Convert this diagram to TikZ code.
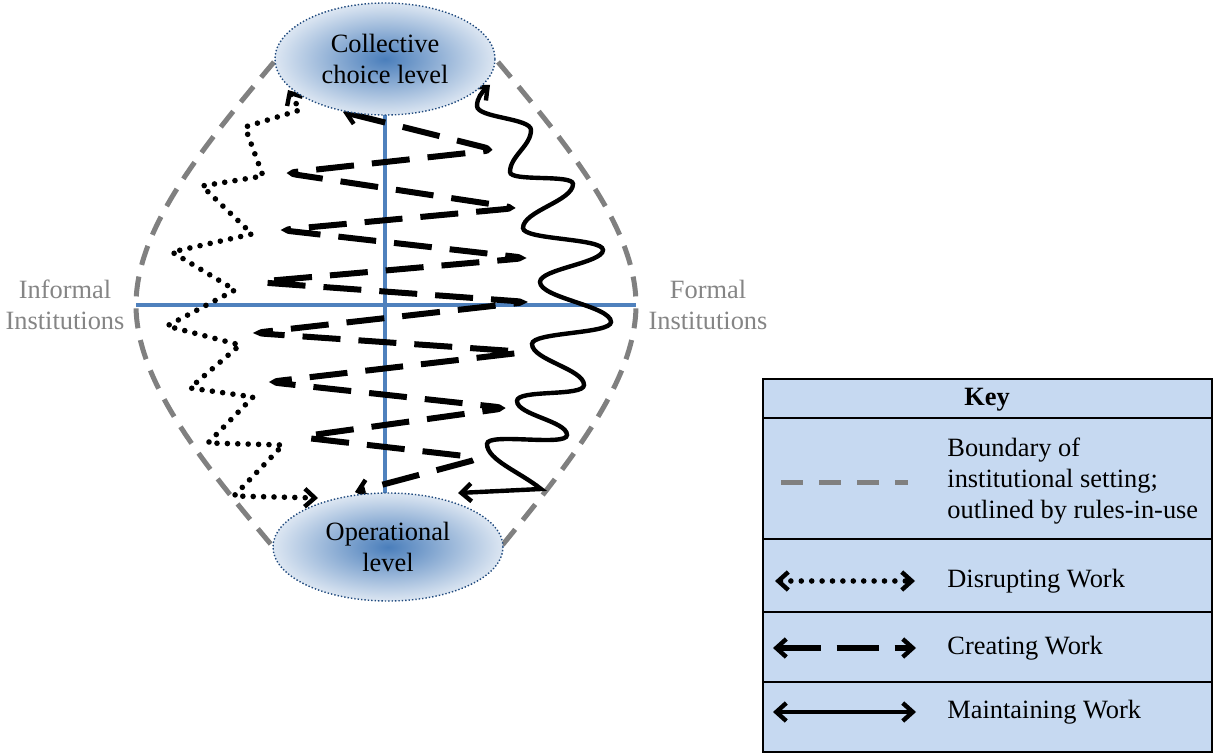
\documentclass[tikz,border=0pt]{standalone}
\usepackage{fontspec}
\setmainfont{Liberation Serif}
\usetikzlibrary{shapes.geometric,arrows.meta}
\definecolor{keyfill}{HTML}{C6D9F1}
\definecolor{axisblue}{HTML}{4F81BD}
\definecolor{ellblue}{HTML}{4A7EBB}
\definecolor{elllight}{HTML}{DCE6F2}
\definecolor{elledge}{HTML}{1F497D}
\definecolor{bgray}{HTML}{808080}
\definecolor{tgray}{HTML}{858585}
\begin{document}
\begin{tikzpicture}[x=0.5pt,y=-0.5pt,
  >={Straight Barb[length=5pt,width=9pt,line width=2.2pt]},
  every node/.style={font=\fontsize{13.2}{15.5}\selectfont, inner sep=0pt},
  levelbox/.style={ellipse, draw=elledge, densely dotted, line width=0.7pt,
    inner color=ellblue, outer color=elllight, align=center},
  boundary/.style={draw=bgray, line width=2.5pt, dash pattern=on 10pt off 6pt},
  axisline/.style={draw=axisblue, line width=2pt},
  disrupt/.style={line width=2.8pt, line cap=round, dash pattern=on 0pt off 5.2pt},
  create/.style={line width=3pt, dash pattern=on 19pt off 9pt, rounded corners=6pt},
  maintain/.style={line width=2.2pt},
  sidetext/.style={text=tgray, align=center},
  keytext/.style={anchor=west, align=left}
]
\useasboundingbox (0,0) rectangle (1213,753);

% boundary of institutional setting
\coordinate (bw) at (136,305);
\coordinate (be) at (636,305);
\draw[boundary] (274,62) .. controls (200,150) and (136,230) .. (bw)
  .. controls (136,380) and (200,460) .. (274,548);
\draw[boundary] (498,62) .. controls (572,150) and (636,230) .. (be)
  .. controls (636,380) and (572,460) .. (500,548);

% axes
\coordinate (vt) at (385,114);
\coordinate (vb) at (385,494);
\draw[axisline] (vt) -- (vb);
\draw[axisline] (bw) -- (be);

% side labels
\node[sidetext] (inf) at (65,305) {Informal\\Institutions};
\node[sidetext] (for) at (708,305) {Formal\\Institutions};

% disrupting work (dotted zigzag)
\coordinate (dtop) at (288,90);
\coordinate (dbot) at (318,498);
\draw[disrupt,<->] (dtop) -- (300,110) -- (245,127) -- (263,176) -- (202,186)
  -- (252,234) -- (172,252) -- (235,290) -- (167,326) -- (240,345)
  -- (190,388) -- (253,397) -- (208,443) -- (283,445) -- (234,496) -- (dbot);

% creating work (dashed zigzag)
\coordinate (ctop) at (343,112);
\coordinate (cbot) at (355,492);
\draw[create,<->] (ctop) -- (495,150) -- (285,173) -- (517,208) -- (280,230)
  -- (527,258) -- (255,282) -- (528,302) -- (253,333) -- (527,352)
  -- (268,382) -- (507,408) -- (298,437) -- (482,458) -- (cbot);

% maintaining work (solid wave)
\coordinate (mbot) at (458,493);
\coordinate (mtop) at (490,85);
\draw[maintain,<->] (mbot) -- (541,489)
  .. controls (520,472) and (487,460) .. (487,444)
  .. controls (487,432) and (567,447) .. (567,435)
  .. controls (567,421) and (517,415) .. (517,401)
  .. controls (517,389) and (584,397) .. (584,385)
  .. controls (584,369) and (532,360) .. (532,344)
  .. controls (532,332) and (611,334) .. (611,322)
  .. controls (611,306) and (540,298) .. (540,282)
  .. controls (540,269) and (603,263) .. (603,250)
  .. controls (603,238) and (523,240) .. (523,228)
  .. controls (523,211) and (573,201) .. (573,184)
  .. controls (573,174) and (510,182) .. (510,172)
  .. controls (510,156) and (531,146) .. (531,130)
  .. controls (531,118) and (477,118) .. (477,106)
  .. controls (477,98) and (482,92) .. (mtop);

% levels
\node[levelbox, minimum width=110pt, minimum height=56pt] (top) at (385,59) {Collective\\choice level};
\node[levelbox, minimum width=115pt, minimum height=54pt] (bot) at (388,547) {Operational\\level};

% key
\draw[fill=keyfill, line width=1pt] (763,379) rectangle (1212,752);
\coordinate (s1) at (763,418);
\coordinate (s2) at (763,539);
\coordinate (s3) at (763,612);
\coordinate (s4) at (763,682);
\foreach \s in {s1,s2,s3,s4} \draw[line width=1pt] (\s) -- ++(449,0);
\node[font=\fontsize{13.2}{15.5}\selectfont\bfseries] (keyt) at (987,400) {Key};

\coordinate (k1a) at (781,482); \coordinate (k1b) at (908,482);
\draw[draw=bgray, line width=2.5pt, dash pattern=on 11pt off 8pt] (k1a) -- (k1b);
\node[keytext] (k1) at (947,481) {Boundary of\\institutional setting;\\outlined by rules-in-use};

\coordinate (k2a) at (775,581); \coordinate (k2b) at (915,581);
\draw[disrupt,<->] (k2a) -- (k2b);
\node[keytext] (k2) at (947,581) {Disrupting Work};

\coordinate (k3a) at (773,648); \coordinate (k3b) at (916,648);
\draw[line width=3pt, dash pattern=on 21pt off 8pt,<->] (k3a) -- (k3b);
\node[keytext] (k3) at (947,648) {Creating Work};

\coordinate (k4a) at (773,712); \coordinate (k4b) at (916,712);
\draw[maintain,<->] (k4a) -- (k4b);
\node[keytext] (k4) at (947,712) {Maintaining Work};
\end{tikzpicture}
\end{document}
